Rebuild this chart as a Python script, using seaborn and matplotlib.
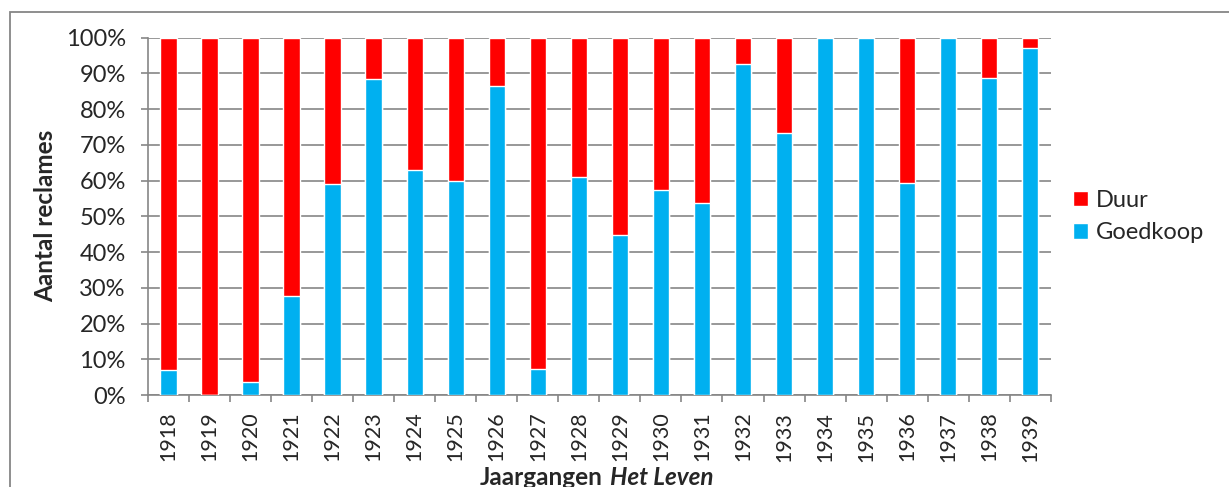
import numpy as np
import pandas as pd
import matplotlib
matplotlib.use("Agg")
import matplotlib.pyplot as plt
from matplotlib.patches import Patch, Rectangle
from matplotlib.ticker import FixedLocator, PercentFormatter
import seaborn as sns

# Data (percent of advertisements per year)
jaren = ['1918', '1919', '1920', '1921', '1922', '1923', '1924', '1925', '1926', '1927', '1928',
         '1929', '1930', '1931', '1932', '1933', '1934', '1935', '1936', '1937', '1938', '1939']
goedkoop = [7.0, 0.0, 3.7, 27.7, 59.1, 88.5, 63.0, 59.9, 86.6, 7.3, 60.9,
            44.8, 57.3, 53.8, 92.7, 73.3, 100.0, 100.0, 59.3, 100.0, 88.7, 97.1]
duur = [93.0, 100.0, 96.3, 72.3, 40.9, 11.5, 37.0, 40.1, 13.4, 92.7, 39.1,
        55.2, 42.7, 46.2, 7.3, 26.7, 0.0, 0.0, 40.7, 0.0, 11.3, 2.9]

kleur_duur = '#FF0000'
kleur_goedkoop = '#00B0F0'
grijs = '#868686'

sns.set_theme(style="white")
plt.rcParams['font.family'] = ['Lato', 'DejaVu Sans']

df = pd.DataFrame({'jaar': jaren, 'Goedkoop': goedkoop, 'Duur': duur})
df['totaal'] = df['Goedkoop'] + df['Duur']

fig, ax = plt.subplots(figsize=(12.29, 4.87), dpi=100)
fig.subplots_adjust(left=0.1204, right=0.855, top=0.9226, bottom=0.1889)

# stacked bars: full bar in red, cheap part in blue on top of it
sns.barplot(data=df, x='jaar', y='totaal', color=kleur_duur, width=0.4,
            saturation=1, ax=ax, zorder=3)
sns.barplot(data=df, x='jaar', y='Goedkoop', color=kleur_goedkoop, width=0.4,
            saturation=1, ax=ax, zorder=4)

ax.set_xlim(-0.5, len(jaren) - 0.5)
ax.set_ylim(0, 100)
ax.yaxis.set_major_locator(FixedLocator(np.arange(0, 101, 10)))
ax.yaxis.set_major_formatter(PercentFormatter(decimals=0))

ax.grid(axis='y', color=grijs, linewidth=1.2, zorder=0)
ax.set_axisbelow(True)
for s in ['top', 'right']:
    ax.spines[s].set_visible(False)
for s in ['left', 'bottom']:
    ax.spines[s].set_color(grijs)
    ax.spines[s].set_linewidth(1.2)

# tick marks between the categories, labels at the centres
ax.xaxis.set_minor_locator(FixedLocator(np.arange(-0.5, len(jaren), 1.0)))
ax.tick_params(axis='x', which='major', length=0, pad=12, labelsize=15.5, labelrotation=90)
ax.tick_params(axis='x', which='minor', bottom=True, length=5, width=1.2, color=grijs)
ax.tick_params(axis='y', which='major', left=True, length=5, width=1.2, color=grijs,
               pad=11, labelsize=17)

ax.set_xlabel('')
ax.set_ylabel('Aantal reclames', fontsize=17.5, fontweight='bold', labelpad=6)

fig.text(603 / 1229, 1 - 485 / 487, 'Jaargangen', ha='right', va='baseline',
         fontsize=17.5, fontweight='bold')
fig.text(610 / 1229, 1 - 485 / 487, 'Het Leven', ha='left', va='baseline',
         fontsize=17.5, fontweight='bold', style='italic')

handles = [Patch(facecolor=kleur_duur, label='Duur'),
           Patch(facecolor=kleur_goedkoop, label='Goedkoop')]
ax.legend(handles=handles, loc='center left', bbox_to_anchor=(1.025, 0.5),
          frameon=False, fontsize=17, handlelength=0.64, handleheight=0.64,
          handletextpad=0.3, labelspacing=0.48, borderpad=0, borderaxespad=0)

# outer chart border (cut off at the right and bottom)
fig.patches.append(Rectangle((10 / 1229, -0.1), 1.2, 0.1 + 1 - 12 / 487,
                             transform=fig.transFigure, fill=False,
                             edgecolor=grijs, linewidth=1.3))

plt.savefig('out.png', dpi=100)
plt.close()
